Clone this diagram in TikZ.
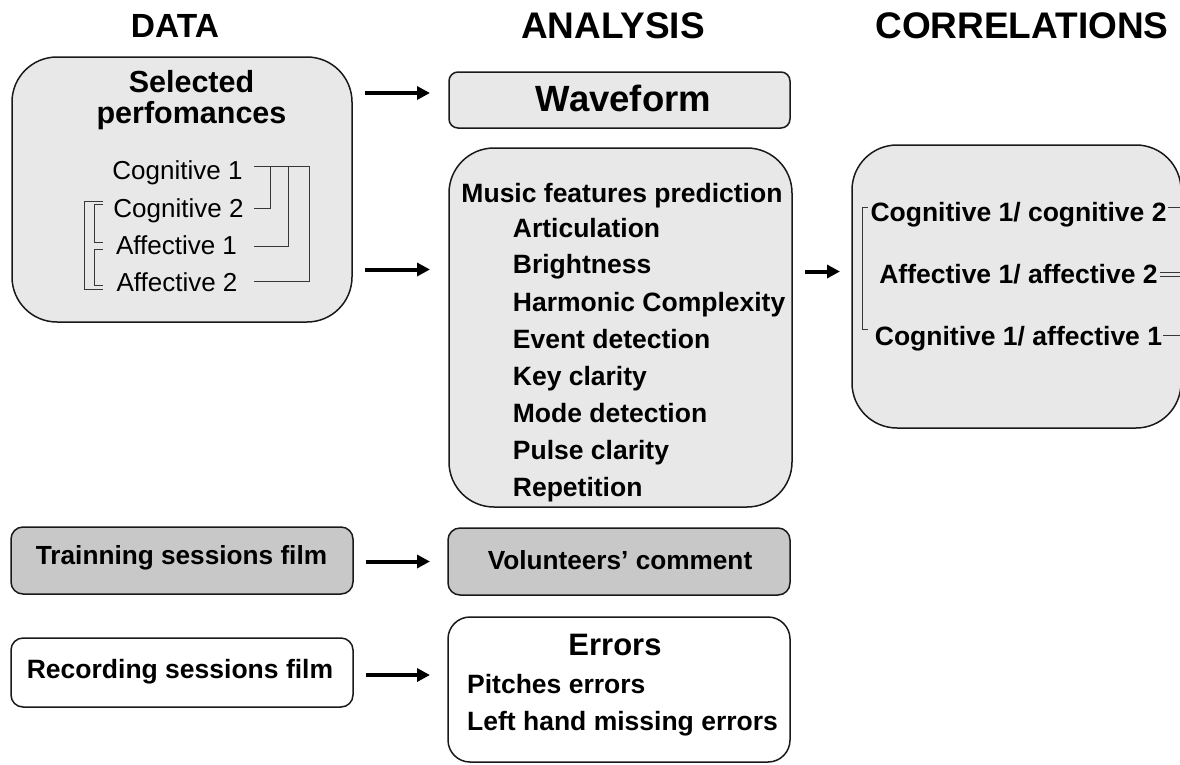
\documentclass[tikz,border=0pt]{standalone}
\usepackage{fontspec}
\setmainfont{Liberation Sans}
\usetikzlibrary{arrows.meta,calc}
\definecolor{lgray}{RGB}{232,232,232}
\definecolor{dgray}{RGB}{200,200,200}
\definecolor{brkc}{RGB}{55,55,55}
\begin{document}
\begin{tikzpicture}[x=1pt,y=-1pt,
  box/.style={draw=black!90, line width=1.5pt, anchor=north west, inner sep=0pt, outer sep=0pt},
  ttl/.style={anchor=base, font=\fontsize{37}{40}\selectfont\bfseries, inner sep=0pt},
  bt/.style={anchor=base, font=\fontsize{26.5}{30}\selectfont\bfseries, inner sep=0pt},
  btl/.style={anchor=base west, font=\fontsize{26.5}{30}\selectfont\bfseries, inner sep=0pt},
  rt/.style={anchor=base, font=\fontsize{26}{30}\selectfont, inner sep=0pt},
  arr/.style={line width=4pt, -{Triangle[length=13pt,width=13pt]}},
  brk/.style={draw=brkc, line width=1pt}
]
\useasboundingbox[fill=white] (0,0) rectangle (1180,764);

% column titles
\node[ttl, font=\fontsize{33.5}{36}\selectfont\bfseries] (tdata) at (175,37) {DATA};
\node[ttl] (tana) at (613,38.5) {ANALYSIS};
\node[ttl] (tcor) at (1022,38.5) {CORRELATIONS};

% boxes
\node[box, fill=lgray, rounded corners=45pt, minimum width=340pt, minimum height=265pt] (sel) at (12,57) {};
\node[box, fill=lgray, rounded corners=9pt, minimum width=341pt, minimum height=56pt] (wave) at (449,72) {};
\node[box, fill=lgray, rounded corners=45pt, minimum width=343pt, minimum height=359pt] (music) at (449,148) {};
\node[box, fill=lgray, rounded corners=45pt, minimum width=329pt, minimum height=283pt] (corr) at (852,145) {};
\node[box, fill=dgray, rounded corners=12pt, minimum width=342pt, minimum height=67pt] (train) at (11,527) {};
\node[box, fill=dgray, rounded corners=12pt, minimum width=342pt, minimum height=67pt] (vol) at (448,528) {};
\node[box, fill=white, rounded corners=12pt, minimum width=342pt, minimum height=69pt] (rec) at (11,638) {};
\node[box, fill=white, rounded corners=22pt, minimum width=342pt, minimum height=145pt] (err) at (448,617) {};

% left box text
\node[bt, font=\fontsize{30.5}{34}\selectfont\bfseries] (selA) at (191.5,92) {Selected};
\node[bt, font=\fontsize{30.5}{34}\selectfont\bfseries] (selB) at (191.5,123.5) {perfomances};
\node[rt] (c1) at (177.5,179.3) {Cognitive 1};
\node[rt] (c2) at (178.5,217.3) {Cognitive 2};
\node[rt] (a1) at (176.5,254.3) {Affective 1};
\node[rt] (a2) at (177,291) {Affective 2};

% right-side brackets in left box
\draw[brk] (254,166) -- (309,166);
\draw[brk] (270.7,166) -- (270.7,208.3) -- (254,208.3);
\draw[brk] (288.3,166) -- (288.3,246.7) -- (254,246.7);
\draw[brk] (309,166) -- (309,281.7) -- (254,281.7);
% left-side brackets in left box
\draw[brk] (103,201) -- (84.3,201) -- (84.3,289) -- (103,289);
\draw[brk] (103,204) -- (94.3,204) -- (94.3,242) -- (103,242);
\draw[brk] (103,249) -- (94.3,249) -- (94.3,285) -- (103,285);

% analysis texts
\node[bt, font=\fontsize{36.5}{40}\selectfont\bfseries] (wavet) at (623.5,111) {Waveform};
\node[bt] (mfp) at (622,202) {Music features prediction};
\node[btl] (m1) at (512.7,237) {Articulation};
\node[btl] (m2) at (512.7,273.5) {Brightness};
\node[btl] (m3) at (512.7,311.5) {Harmonic Complexity};
\node[btl] (m4) at (512.7,348.5) {Event detection};
\node[btl] (m5) at (512.7,385.5) {Key clarity};
\node[btl] (m6) at (512.7,422.5) {Mode detection};
\node[btl] (m7) at (512.7,459.5) {Pulse clarity};
\node[btl] (m8) at (512.7,496.5) {Repetition};

% correlations texts
\node[bt] (r1) at (1018.5,221) {Cognitive 1/ cognitive 2};
\node[bt] (r2) at (1018.5,283.5) {Affective 1/ affective 2};
\node[bt] (r3) at (1018.5,345.5) {Cognitive 1/ affective 1};
\draw[brk] (868,207) -- (862.3,207) -- (862.3,329) -- (868,329);
\draw[brk] (1168,207.5) -- (1186,207.5);
\draw[brk] (1160,272.7) -- (1186,272.7);
\draw[brk] (1160,276.7) -- (1186,276.7);
\draw[brk] (1163,335) -- (1186,335);

% bottom texts
\node[bt, font=\fontsize{26.2}{30}\selectfont\bfseries] (traint) at (181.5,564) {Trainning sessions film};
\node[bt] (rect) at (180,678) {Recording sessions film};
\node[bt, font=\fontsize{26.2}{30}\selectfont\bfseries] (volt) at (620,569.5) {Volunteers’ comment};
\node[bt, font=\fontsize{31}{34}\selectfont\bfseries] (errt) at (615,655) {Errors};
\node[btl] (e1) at (467,693.5) {Pitches errors};
\node[btl] (e2) at (467,730) {Left hand missing errors};

% arrows
\draw[arr] ($(sel.east |- wave.west)+(13,-7)$) -- ($(wave.west)+(-19,-7)$);
\draw[arr] ($(sel.east |- music.west)+(13,-58)$) -- ($(music.west)+(-19,-58)$);
\draw[arr] ($(music.east)+(13,-56)$) -- ($(corr.west |- music.east)+(-12,-56)$);
\draw[arr] ($(train.east |- vol.west)+(13,0)$) -- ($(vol.west)+(-18,0)$);
\draw[arr] ($(rec.east)+(13,2.5)$) -- ($(err.west |- rec.east)+(-18,2.5)$);
\end{tikzpicture}
\end{document}
